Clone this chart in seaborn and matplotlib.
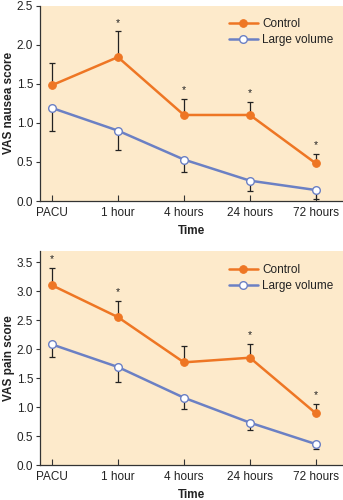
import matplotlib
matplotlib.use("Agg")
import matplotlib.pyplot as plt
import seaborn as sns
import pandas as pd

sns.set_style("ticks")
plt.rcParams['font.family'] = ['Liberation Sans', 'DejaVu Sans']

times = ["PACU", "1 hour", "4 hours", "24 hours", "72 hours"]

nausea_control = [1.48, 1.84, 1.10, 1.10, 0.48]
nausea_control_err_up = [0.29, 0.33, 0.21, 0.17, 0.12]
nausea_large = [1.19, 0.90, 0.53, 0.26, 0.14]
nausea_large_err_down = [0.30, 0.25, 0.16, 0.13, 0.11]
nausea_star = [False, True, True, True, True]

pain_control = [3.10, 2.55, 1.77, 1.85, 0.89]
pain_control_err_up = [0.30, 0.28, 0.28, 0.24, 0.16]
pain_large = [2.08, 1.69, 1.16, 0.73, 0.36]
pain_large_err_down = [0.22, 0.26, 0.19, 0.13, 0.09]
pain_star = [True, True, False, True, True]

ORANGE = "#EE7624"
BLUE = "#6B80C4"
BG = "#FDEACB"
DARK = "#333333"

fig = plt.figure(figsize=(3.43, 5.0), dpi=100)
ax1 = fig.add_axes([0.1166, 0.598, 0.8834, 0.391])
ax2 = fig.add_axes([0.1166, 0.070, 0.8834, 0.428])


def panel(ax, control, cup, large, ldown, stars, ylabel, ylim, yticks, star_off):
    df = pd.DataFrame({"Time": times, "Control": control, "Large volume": large})
    ax.set_facecolor(BG)
    ax.errorbar(df["Time"], df["Control"], yerr=[[0] * len(cup), cup], fmt="none",
                ecolor="#222222", elinewidth=0.9, capsize=2.5, capthick=0.9, zorder=1)
    ax.errorbar(df["Time"], df["Large volume"], yerr=[ldown, [0] * len(ldown)], fmt="none",
                ecolor="#222222", elinewidth=0.9, capsize=2.5, capthick=0.9, zorder=1)
    sns.lineplot(data=df, x="Time", y="Control", ax=ax, color=ORANGE, lw=1.8,
                 marker="o", markersize=5.5, markeredgecolor=ORANGE,
                 markerfacecolor=ORANGE, label="Control", zorder=3, sort=False)
    sns.lineplot(data=df, x="Time", y="Large volume", ax=ax, color=BLUE, lw=1.8,
                 marker="o", markersize=5.5, markeredgecolor=BLUE, markeredgewidth=1.0,
                 markerfacecolor="white", label="Large volume", zorder=3, sort=False)
    for t, c, u, s in zip(times, control, cup, stars):
        if s:
            ax.text(t, c + u + star_off, "*", ha="center", va="center",
                    fontsize=7.5, color="#222222")
    ax.set_xlim(-0.18, 4.41)
    ax.set_ylim(*ylim)
    ax.set_yticks(yticks)
    ax.set_yticklabels([f"{v:.1f}" for v in yticks])
    ax.set_xlabel("Time", fontsize=8.5, fontweight="bold", color="#222222", labelpad=5)
    ax.set_ylabel(ylabel, fontsize=8.5, fontweight="bold", color="#222222", labelpad=1)
    for side in ["top", "right"]:
        ax.spines[side].set_visible(False)
    for side in ["left", "bottom"]:
        ax.spines[side].set_color(DARK)
        ax.spines[side].set_linewidth(0.9)
    ax.tick_params(axis="x", direction="in", length=4, width=0.8, color=DARK,
                   labelsize=8.5, labelcolor="#222222", pad=4)
    ax.tick_params(axis="y", direction="out", length=3, width=0.8, color=DARK,
                   labelsize=8.5, labelcolor="#222222", pad=2)
    leg = ax.legend(loc="upper right", frameon=False, fontsize=8.5, handlelength=2.4,
                    handletextpad=0.4, labelspacing=0.35, borderaxespad=0.4,
                    bbox_to_anchor=(1.0, 0.985))
    for txt in leg.get_texts():
        txt.set_color("#222222")


panel(ax1, nausea_control, nausea_control_err_up, nausea_large, nausea_large_err_down,
      nausea_star, "VAS nausea score", (0, 2.5), [0.0, 0.5, 1.0, 1.5, 2.0, 2.5], 0.11)
panel(ax2, pain_control, pain_control_err_up, pain_large, pain_large_err_down,
      pain_star, "VAS pain score", (0, 3.69), [0.0, 0.5, 1.0, 1.5, 2.0, 2.5, 3.0, 3.5], 0.15)

fig.savefig("out.png", dpi=100)
